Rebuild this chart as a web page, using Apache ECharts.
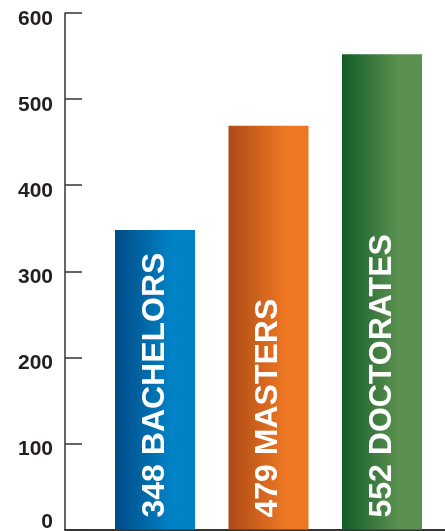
<!DOCTYPE html>
<html>
<head>
<meta charset="utf-8">
<script src="https://cdn.jsdelivr.net/npm/echarts@6/dist/echarts.min.js"></script>
<style>
  html, body { margin: 0; padding: 0; background: #fff; }
  #chart { width: 445px; height: 531px; }
</style>
</head>
<body>
<div id="chart"></div>
<script>
// chart data
const categories = ['348 BACHELORS', '479 MASTERS', '552 DOCTORATES'];
const values = [348, 469, 552];              // bar heights as drawn
const yTicks = [0, 100, 200, 300, 400, 500, 600];

// gradient colours per bar (dark left -> light right)
const barColors = [
  ['#004a85', '#0083c6'],
  ['#ad4a16', '#ed7723'],
  ['#125c29', '#5b9150']
];

const axisColor = '#333';
const labelFont = 'Liberation Sans, Arial, sans-serif';

function gradient(pair) {
  return {
    type: 'linear', x: 0, y: 0, x2: 1, y2: 0,
    colorStops: [
      { offset: 0, color: pair[0] },
      { offset: 0.7, color: pair[1] },
      { offset: 1, color: pair[1] }
    ]
  };
}

const chart = echarts.init(document.getElementById('chart'));

const yMin = yTicks[0], yMax = yTicks[yTicks.length - 1], yStep = yTicks[1] - yTicks[0];
const tickText = { color: '#231f20', fontSize: 21, fontWeight: 'bold', fontFamily: labelFont };

const option = {
  animation: false,
  grid: [
    { left: 65, right: 0, top: 13, bottom: 1.5, containLabel: false, outerBoundsMode: 'none' },     // axes frame
    { left: 98.25, right: 6.25, top: 13, bottom: 1.5, containLabel: false, outerBoundsMode: 'none' } // bars
  ],
  xAxis: [
    {
      gridIndex: 0, type: 'category', data: [], position: 'bottom',
      axisLine: { show: true, onZero: false, lineStyle: { color: axisColor, width: 2 } },
      axisTick: { show: false }, axisLabel: { show: false }
    },
    {
      gridIndex: 1, type: 'category', data: categories,
      axisLine: { show: false }, axisTick: { show: false }, axisLabel: { show: false }
    }
  ],
  yAxis: [
    {
      gridIndex: 0, type: 'value', min: yMin, max: yMax, interval: yStep, position: 'left',
      splitLine: { show: false },
      axisLine: { show: true, lineStyle: { color: axisColor, width: 1.5 } },
      axisTick: { show: true, inside: true, length: 17, lineStyle: { color: axisColor, width: 1.5 } },
      axisLabel: {
        margin: 12, verticalAlign: 'middle',
        formatter: v => (v === yMin ? '{z|' + v + '}' : '{t|' + v + '}'),
        rich: {
          t: Object.assign({ padding: [12, 0, 0, 0] }, tickText),   // sits just below its tick
          z: Object.assign({ padding: [0, 0, 14, 0] }, tickText)    // zero sits above the baseline
        }
      }
    },
    {
      gridIndex: 1, type: 'value', min: yMin, max: yMax, interval: yStep,
      show: false, splitLine: { show: false }
    }
  ],
  series: [
    {
      type: 'bar',
      xAxisIndex: 1, yAxisIndex: 1,
      barWidth: 80,
      data: values.map((v, i) => ({ value: v, itemStyle: { color: gradient(barColors[i]) } })),
      label: {
        show: true,
        position: 'insideBottom',
        distance: 12,
        rotate: 90,
        align: 'left',
        verticalAlign: 'middle',
        color: '#fff',
        fontSize: 32,
        fontWeight: 'bold',
        fontFamily: labelFont,
        formatter: p => categories[p.dataIndex]
      }
    }
  ]
};

chart.setOption(option);
</script>
</body>
</html>
